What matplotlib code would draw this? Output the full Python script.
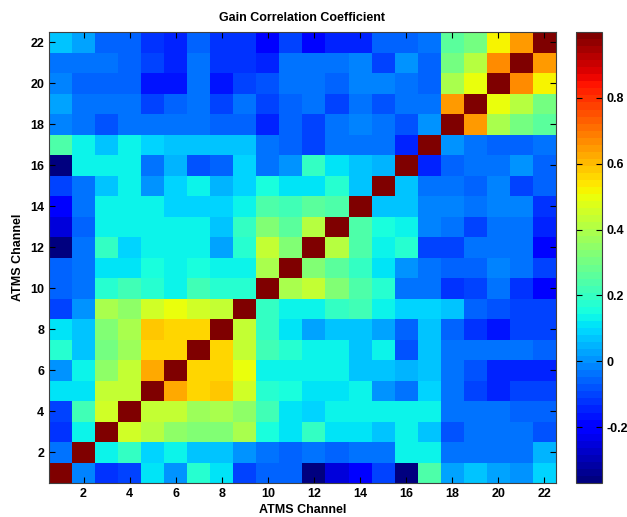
import numpy as np
import matplotlib
matplotlib.use('Agg')
import matplotlib.pyplot as plt

# atms channels on both axes
channels = list(range(1, 23))
tick_channels = list(range(2, 23, 2))

# gain correlation coefficient, one list per channel (row 1 = bottom)
gain_corr = [
    [1.0, -0.01, -0.13, -0.10, 0.11, 0.00, 0.17, 0.11, -0.11, -0.055, -0.055, -0.36, -0.25, -0.20, -0.11, -0.37, 0.25, 0.02, 0.06, 0.02, 0.00, 0.08],
    [-0.03, 1.0, 0.14, 0.20, 0.09, 0.14, 0.06, 0.06, 0.00, -0.03, -0.06, -0.03, -0.06, -0.045, -0.045, 0.13, 0.13, -0.03, -0.03, -0.045, -0.045, 0.04],
    [-0.13, 0.14, 1.0, 0.46, 0.42, 0.35, 0.32, 0.32, 0.39, 0.15, 0.11, 0.20, 0.11, 0.11, 0.06, 0.14, 0.06, -0.08, -0.045, -0.045, -0.045, -0.08],
    [-0.10, 0.21, 0.46, 1.0, 0.43, 0.44, 0.36, 0.38, 0.35, 0.21, 0.11, 0.09, 0.14, 0.13, 0.13, 0.13, 0.14, -0.045, -0.045, -0.045, -0.06, -0.06],
    [0.11, 0.11, 0.43, 0.43, 1.0, 0.62, 0.56, 0.59, 0.46, 0.17, 0.16, 0.11, 0.11, 0.14, 0.00, -0.045, 0.09, -0.03, -0.11, -0.15, -0.10, -0.11],
    [0.00, 0.14, 0.35, 0.44, 0.62, 1.0, 0.56, 0.56, 0.49, 0.14, 0.14, 0.14, 0.14, 0.075, 0.075, 0.04, 0.075, -0.045, -0.08, -0.15, -0.15, -0.15],
    [0.18, 0.07, 0.31, 0.36, 0.56, 0.56, 1.0, 0.56, 0.44, 0.22, 0.17, 0.14, 0.14, 0.075, 0.13, -0.08, 0.075, -0.045, -0.045, -0.045, -0.045, -0.06],
    [0.11, 0.06, 0.32, 0.40, 0.59, 0.56, 0.56, 1.0, 0.43, 0.19, 0.11, 0.02, 0.06, 0.075, 0.02, -0.06, 0.075, -0.06, -0.12, -0.16, -0.11, -0.11],
    [-0.10, 0.00, 0.40, 0.35, 0.46, 0.49, 0.46, 0.43, 1.0, 0.20, 0.14, 0.14, 0.20, 0.21, 0.14, 0.09, 0.09, 0.075, -0.06, -0.08, -0.11, -0.11],
    [-0.06, -0.03, 0.17, 0.21, 0.18, 0.14, 0.22, 0.18, 0.18, 1.0, 0.38, 0.43, 0.32, 0.23, 0.18, -0.03, -0.03, -0.13, -0.11, -0.045, -0.13, -0.20],
    [-0.06, -0.045, 0.11, 0.11, 0.16, 0.14, 0.16, 0.13, 0.14, 0.39, 1.0, 0.32, 0.27, 0.19, 0.11, 0.00, -0.045, -0.06, -0.06, -0.01, -0.045, -0.11],
    [-0.36, -0.03, 0.20, 0.09, 0.13, 0.14, 0.14, 0.02, 0.17, 0.43, 0.33, 1.0, 0.42, 0.24, 0.14, 0.18, -0.10, -0.10, -0.03, -0.03, -0.045, -0.18],
    [-0.25, -0.06, 0.13, 0.14, 0.13, 0.14, 0.14, 0.075, 0.20, 0.32, 0.27, 0.42, 1.0, 0.25, 0.15, 0.13, -0.01, -0.03, -0.10, -0.045, -0.03, -0.15],
    [-0.20, -0.03, 0.13, 0.13, 0.14, 0.09, 0.09, 0.09, 0.14, 0.25, 0.21, 0.26, 0.25, 1.0, 0.075, 0.075, -0.01, -0.01, -0.03, -0.01, -0.01, -0.13],
    [-0.11, -0.03, 0.06, 0.13, 0.00, 0.09, 0.14, 0.04, 0.09, 0.16, 0.11, 0.11, 0.18, 0.06, 1.0, 0.06, -0.045, -0.045, -0.06, -0.01, -0.10, -0.06],
    [-0.37, 0.13, 0.14, 0.13, -0.045, 0.04, -0.08, -0.06, 0.09, -0.03, 0.00, 0.20, 0.11, 0.075, 0.04, 1.0, -0.15, -0.06, -0.03, -0.045, 0.00, -0.06],
    [0.23, 0.13, 0.06, 0.14, 0.09, 0.075, 0.075, 0.075, 0.075, -0.03, -0.06, -0.10, -0.03, -0.03, -0.045, -0.15, 1.0, 0.00, -0.03, -0.06, -0.06, -0.045],
    [-0.01, -0.03, -0.08, -0.045, -0.03, -0.045, -0.045, -0.06, -0.06, -0.15, -0.06, -0.11, -0.045, -0.01, -0.045, -0.08, 0.00, 1.0, 0.64, 0.40, 0.31, 0.26],
    [0.02, -0.03, -0.045, -0.045, -0.10, -0.06, -0.03, -0.11, -0.045, -0.11, -0.06, -0.03, -0.10, -0.03, -0.08, -0.03, -0.03, 0.64, 1.0, 0.49, 0.42, 0.31],
    [-0.01, -0.06, -0.06, -0.06, -0.165, -0.165, -0.03, -0.165, -0.10, -0.08, -0.03, -0.03, -0.06, -0.01, -0.01, -0.045, -0.06, 0.40, 0.49, 1.0, 0.66, 0.52],
    [-0.03, -0.045, -0.045, -0.06, -0.10, -0.15, -0.03, -0.13, -0.13, -0.15, -0.045, -0.045, -0.03, -0.01, -0.10, 0.00, -0.06, 0.31, 0.42, 0.66, 1.0, 0.64],
    [0.06, 0.02, -0.07, -0.07, -0.13, -0.15, -0.06, -0.13, -0.13, -0.20, -0.11, -0.18, -0.15, -0.15, -0.06, -0.07, -0.03, 0.26, 0.31, 0.52, 0.64, 1.0],
]

cbar_ticks = [-0.2, 0, 0.2, 0.4, 0.6, 0.8]
cbar_labels = ['-0.2', '0', '0.2', '0.4', '0.6', '0.8']

plt.rcParams['font.family'] = ['Liberation Sans', 'DejaVu Sans']
plt.rcParams['font.weight'] = 'bold'
plt.rcParams['font.size'] = 9

fig = plt.figure(figsize=(6.27, 5.17), dpi=100)
ax = fig.add_axes([0.0781, 0.0658, 0.8086, 0.8723])
cax = fig.add_axes([0.9187, 0.0658, 0.0415, 0.8723])

# matlab style jet with 64 levels
cmap = plt.get_cmap('jet', 64)
data = np.array(gain_corr)
lo = channels[0] - 0.5
hi = channels[-1] + 0.5
im = ax.imshow(data, cmap=cmap, vmin=-0.37, vmax=1.0, origin='lower',
               extent=[lo, hi, lo, hi], aspect='auto', interpolation='nearest')

ax.set_xticks(tick_channels)
ax.set_yticks(tick_channels)
ax.tick_params(direction='in', top=True, right=True, length=4, width=0.8, labelsize=9)
for s in ax.spines.values():
    s.set_color('#404040')
    s.set_linewidth(0.8)

ax.set_title('Gain Correlation Coefficient', fontsize=9, fontweight='bold', pad=8)
ax.set_xlabel('ATMS Channel', fontsize=9, fontweight='bold', labelpad=3)
ax.set_ylabel('ATMS Channel', fontsize=9, fontweight='bold', labelpad=4)

cb = fig.colorbar(im, cax=cax, ticks=cbar_ticks)
cb.ax.set_yticklabels(cbar_labels)
cb.ax.tick_params(direction='in', left=True, right=True, length=4, width=0.8, labelsize=9)
cb.outline.set_edgecolor('#404040')
cb.outline.set_linewidth(0.8)

fig.savefig('out.png', dpi=100)
